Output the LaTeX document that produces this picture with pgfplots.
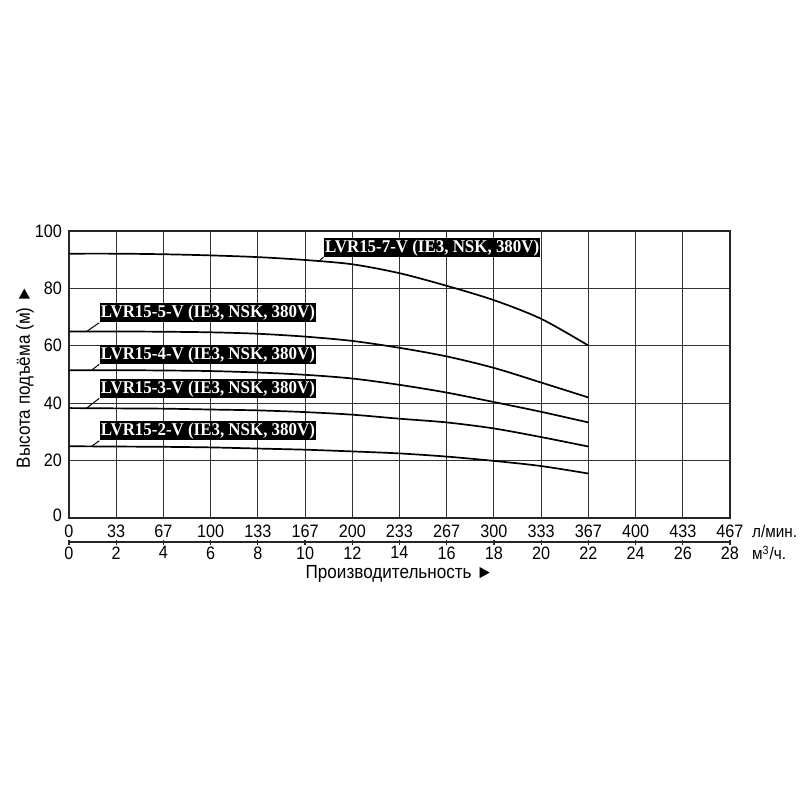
\documentclass[border=0pt]{standalone}
\usepackage{fontspec}
\setmainfont{Liberation Sans}
\newfontfamily\boxfont{Liberation Serif}[FakeStretch=0.94]
\newfontfamily\narrowfont{Liberation Sans}[FakeStretch=0.9]
\usepackage{pgfplots}
\pgfplotsset{compat=1.18}
\begin{document}
\begin{tikzpicture}
% page = 800x800 px, 1 px = 0.5 pt, axis lower left at (69,518) px
\path[use as bounding box] (-34.5pt,-141pt) rectangle (365.5pt,259pt);
\tikzset{
  curve/.style={black, line width=0.85pt, smooth},
  lbl/.style={fill=black, text=white, anchor=south west,
    font=\boxfont\bfseries\fontsize{9}{10}\selectfont,
    inner xsep=0.6pt, inner ysep=0.3pt, text height=6.9pt, text depth=2pt},
  lead/.style={black, line width=0.5pt},
  unit/.style={anchor=west, inner sep=0pt, font=\narrowfont\fontsize{8.5}{10}\selectfont},
}
\begin{axis}[
  name=main,
  scale only axis, width=330.5pt, height=143.5pt,
  xmin=0, xmax=28, ymin=0, ymax=100,
  xtick={0,2,...,28},
  xticklabels={0,33,67,100,133,167,200,233,267,300,333,367,400,433,467},
  ytick={0,20,...,100},
  yticklabels={\raisebox{3pt}{0},20,40,60,80,100},
  grid=major,
  major grid style={black!80, line width=0.5pt},
  axis line style={black!85, line width=0.6pt},
  major tick length=0pt,
  tick label style={font=\narrowfont\fontsize{9}{10}\selectfont},
  xlabel={Производительность ►},
  xlabel style={at={(axis description cs:0.5,-0.194)}, anchor=center, inner sep=0.5pt,
    font=\narrowfont\fontsize{9.5}{11}\selectfont},
  ylabel={Высота подъёма (м) ►},
  ylabel style={at={(axis description cs:-0.0666,0.491)}, anchor=center,
    font=\narrowfont\fontsize{9.5}{11}\selectfont},
  clip=false,
]
% LVR15-7-V
\addplot[curve] coordinates {
  (0,92.1) (2,92.1) (4,91.9) (6,91.5) (8,90.9) (10,89.9) (12,88.4)
  (14,85.3) (16,80.9) (18,75.9) (20,69.4) (22,60.1)};
% LVR15-5-V
\addplot[curve] coordinates {
  (0,65.0) (2,65.0) (4,64.9) (6,64.7) (8,64.2) (10,63.2) (12,61.7)
  (14,59.3) (16,56.3) (18,52.3) (20,47.2) (22,42.0)};
% LVR15-4-V
\addplot[curve] coordinates {
  (0,51.5) (2,51.5) (4,51.4) (6,51.2) (8,50.7) (10,49.9) (12,48.6)
  (14,46.4) (16,43.7) (18,40.4) (20,37.0) (22,33.3)};
% LVR15-3-V
\addplot[curve] coordinates {
  (0,38.3) (2,38.2) (4,38.1) (6,37.8) (8,37.5) (10,36.9) (12,36.0)
  (14,34.6) (16,33.3) (18,31.2) (20,28.2) (22,24.9)};
% LVR15-2-V
\addplot[curve] coordinates {
  (0,25.0) (2,24.9) (4,24.8) (6,24.6) (8,24.2) (10,23.8) (12,23.2)
  (14,22.5) (16,21.4) (18,19.9) (20,18.1) (22,15.5)};

% curve labels with leader lines
\draw[lead] (axis cs:10.56,89.3) -- (axis cs:10.78,90.9);
\node[lbl] at (axis cs:10.78,90.9) {LVR15-7-V (IE3, NSK, 380V)};
\draw[lead] (axis cs:0.75,65.0) -- (axis cs:1.28,68.05);
\node[lbl] at (axis cs:1.28,68.05) {LVR15-5-V (IE3, NSK, 380V)};
\draw[lead] (axis cs:0.96,51.5) -- (axis cs:1.28,53.55);
\node[lbl] at (axis cs:1.28,53.55) {LVR15-4-V (IE3, NSK, 380V)};
\draw[lead] (axis cs:0.75,38.3) -- (axis cs:1.28,41.7);
\node[lbl] at (axis cs:1.28,41.7) {LVR15-3-V (IE3, NSK, 380V)};
\draw[lead] (axis cs:0.96,25.0) -- (axis cs:1.28,26.9);
\node[lbl] at (axis cs:1.28,26.9) {LVR15-2-V (IE3, NSK, 380V)};

% unit names at the right of the two scales
\node[unit] at (axis description cs:1.033,-0.0453) {л/мин.};
\node[unit] at (axis description cs:1.033,-0.122) {м\textsuperscript{3}/ч.};
\end{axis}

% second scale in m3/h under the first
\begin{axis}[
  at={(0,-12pt)},
  scale only axis, width=330.5pt, height=10pt,
  xmin=0, xmax=28, ymin=0, ymax=1,
  axis x line*=bottom, axis y line=none,
  axis line style={black!85, line width=0.6pt},
  xtick={0,2,...,28},
  xtick align=center, major tick length=2.5pt,
  tick style={black!85, line width=0.6pt},
  /pgf/number format/assume math mode=true,
  xticklabel style={font=\narrowfont\fontsize{9}{10}\selectfont, inner ysep=0.8pt},
]
\end{axis}
\end{tikzpicture}
\end{document}
